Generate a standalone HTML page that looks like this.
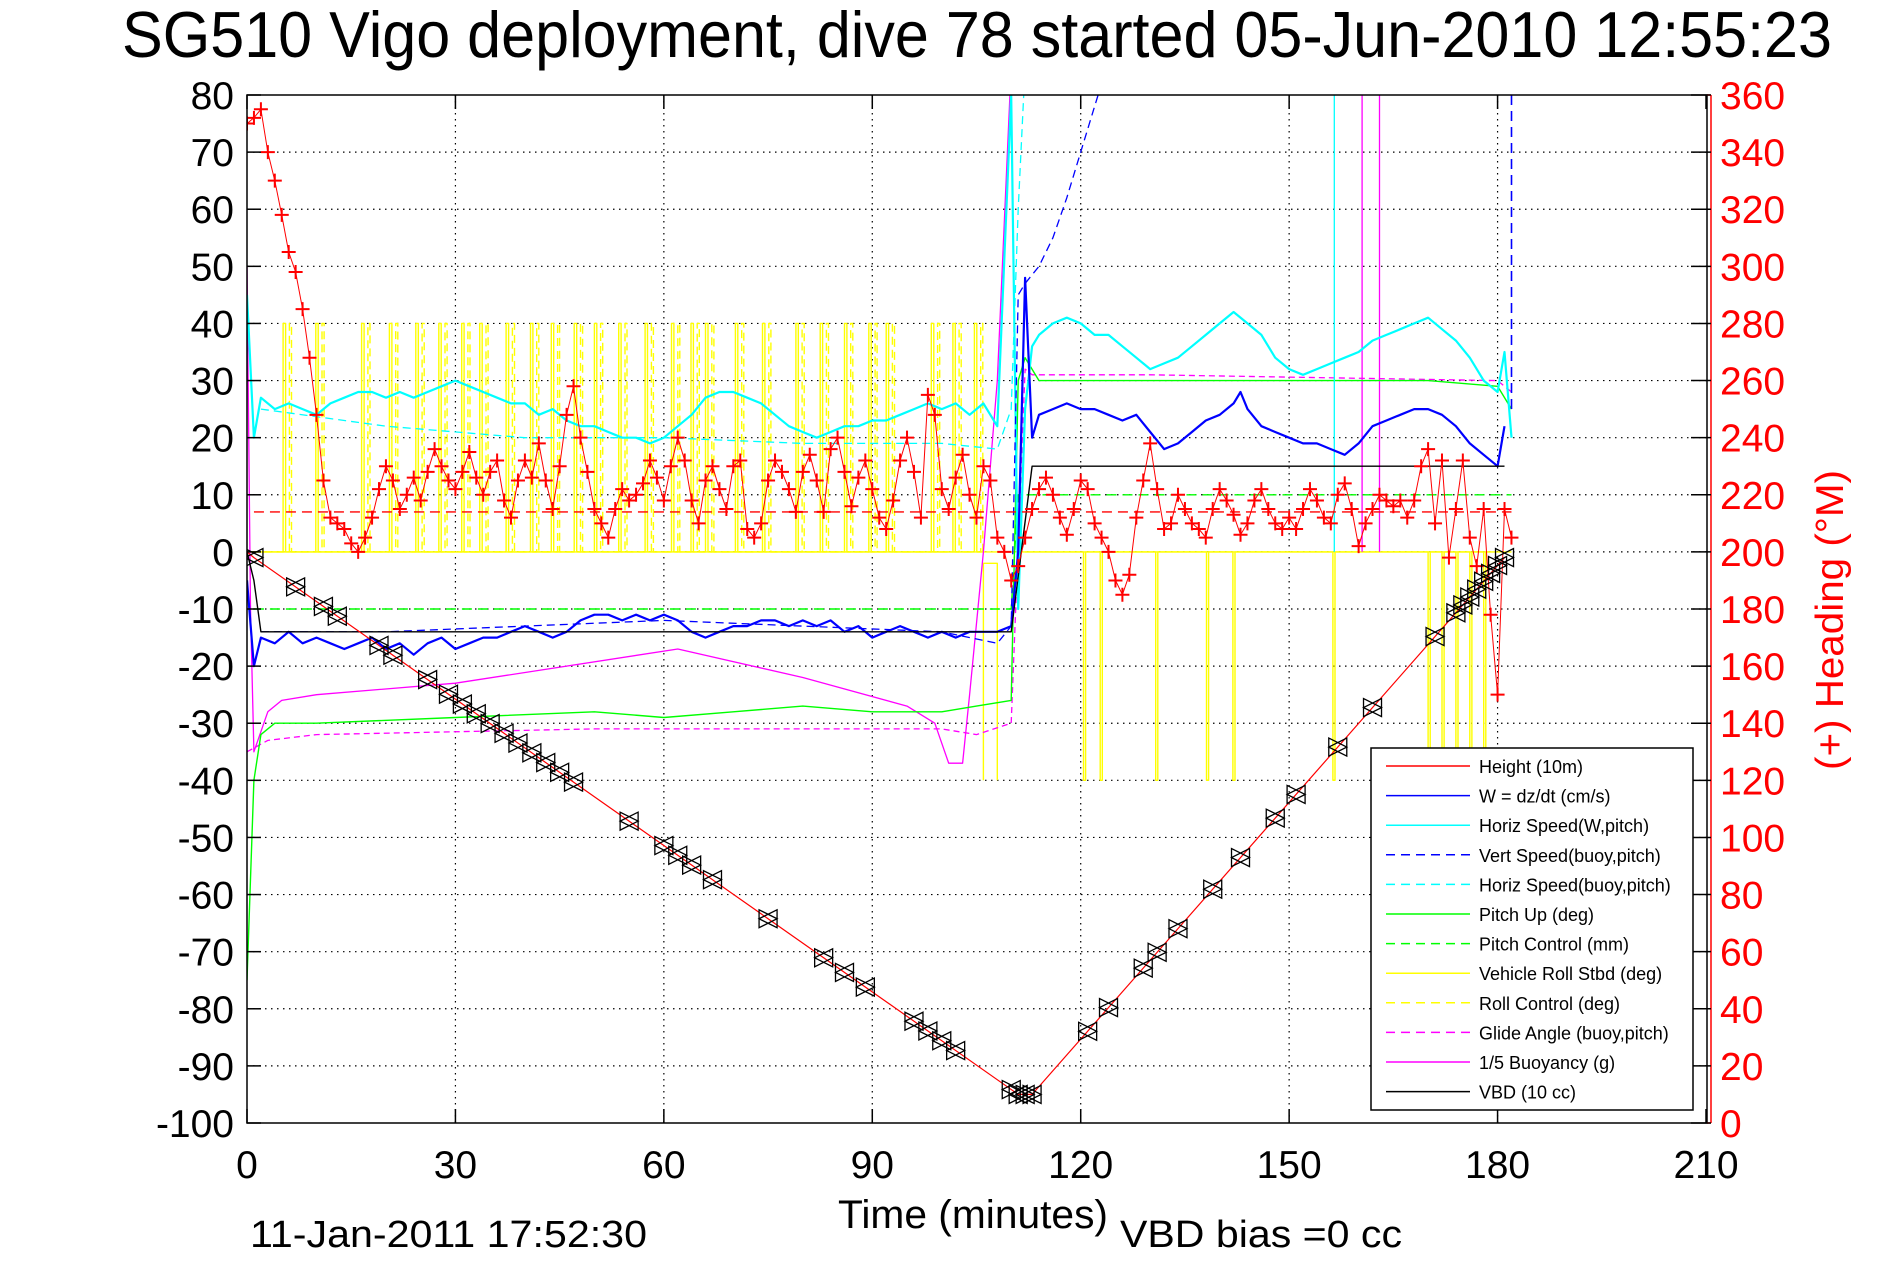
<!DOCTYPE html>
<html><head><meta charset="utf-8"><title>SG510 dive 78</title>
<style>html,body{margin:0;padding:0;background:#fff}svg{display:block}text{font-family:"Liberation Sans",sans-serif}</style>
</head><body>
<svg id="chart" xmlns="http://www.w3.org/2000/svg" width="1891" height="1262" viewBox="0 0 1891 1262">
<rect x="0" y="0" width="1891" height="1262" fill="#fff"/>
<text x="122" y="57" font-size="65" textLength="1710" lengthAdjust="spacingAndGlyphs">SG510 Vigo deployment, dive 78 started 05-Jun-2010 12:55:23</text>
<g id="grid"></g>
<g id="series"></g>
<g id="axes"></g>
<text x="838" y="1228" font-size="40" textLength="270" lengthAdjust="spacingAndGlyphs">Time (minutes)</text>
<text x="250" y="1247" font-size="38" textLength="397" lengthAdjust="spacingAndGlyphs">11-Jan-2011 17:52:30</text>
<text x="1120" y="1247" font-size="38" textLength="282" lengthAdjust="spacingAndGlyphs">VBD bias =0 cc</text>
<text x="0" y="0" font-size="39" fill="#f00" text-anchor="middle" transform="translate(1843,620) rotate(-90)" textLength="300" lengthAdjust="spacingAndGlyphs">(+) Heading (°M)</text>
<g id="legend"></g>
</svg>
<script>
const xTicks=[0,30,60,90,120,150,180,210];
const yTicks=[80,70,60,50,40,30,20,10,0,-10,-20,-30,-40,-50,-60,-70,-80,-90,-100];
const hTicks=[0,20,40,60,80,100,120,140,160,180,200,220,240,260,280,300,320,340,360];
const heightT=[0,1,111,113,181];
const heightV=[0,-1,-95,-95,-1];
const markerT=[1,7,11,13,19,21,26,29,31,33,35,37,39,41,43,45,47,55,60,62,64,67,75,83,86,89,96,98,100,102,110,111,112,113,121,124,129,131,134,139,143,148,151,157,162,171,174,175,176,177,178,179,180,181];
const wT=[0,1,2,4,6,8,10,12,14,16,18,20,22,24,26,28,30,32,34,36,38,40,42,44,46,48,50,52,54,56,58,60,62,64,66,68,70,72,74,76,78,80,82,84,86,88,90,92,94,96,98,100,102,104,106,108,110,111,112,113,114,116,118,120,122,124,126,128,130,132,134,136,138,140,142,143,144,146,148,150,152,154,156,158,160,162,164,166,168,170,172,174,176,178,180,181];
const wV=[-5,-20,-15,-16,-14,-16,-15,-16,-17,-16,-15,-17,-16,-18,-16,-15,-17,-16,-15,-15,-14,-13,-14,-15,-14,-12,-11,-11,-12,-11,-12,-11,-12,-14,-15,-14,-13,-13,-12,-12,-13,-12,-13,-12,-14,-13,-15,-14,-13,-14,-15,-14,-15,-14,-14,-14,-13,0,48,20,24,25,26,25,25,24,23,24,21,18,19,21,23,24,26,28,25,22,21,20,19,19,18,17,19,22,23,24,25,25,24,22,19,17,15,22];
const vsT=[2,20,40,60,80,100,108,110,111,112,114,116,118,120,122,123];
const vsV=[-14,-14,-13,-12,-13,-14,-16,-13,45,47,50,55,62,70,78,82];
const hsT=[0,1,2,4,6,8,10,12,14,16,18,20,22,24,26,28,30,32,34,36,38,40,42,44,46,48,50,52,54,56,58,60,62,64,66,68,70,72,74,76,78,80,82,84,86,88,90,92,94,96,98,100,102,104,106,108,110,111,112,113,114,116,118,120,122,124,126,128,130,132,134,136,138,140,142,144,146,148,150,152,154,156,158,160,162,164,166,168,170,172,174,176,178,180,181,182];
const hsV=[45,20,27,25,26,25,24,26,27,28,28,27,28,27,28,29,30,29,28,27,26,26,24,25,23,22,22,21,20,20,19,20,22,24,27,28,28,27,26,24,22,21,20,21,22,22,23,23,24,25,26,25,26,24,26,22,80,-10,25,36,38,40,41,40,38,38,36,34,32,33,34,36,38,40,42,40,38,34,32,31,32,33,34,35,37,38,39,40,41,39,37,34,30,28,35,20];
const hbT=[2,20,40,60,80,100,108,110,111,112,113];
const hbV=[25,22,20,20,19,19,18,25,60,85,90];
const pitchT=[0,1,2,4,10,30,50,60,70,80,90,100,105,110,111,112,114,130,150,170,180,182];
const pitchV=[-75,-40,-32,-30,-30,-29,-28,-29,-28,-27,-28,-28,-27,-26,30,34,30,30,30,30,29,25];
const pcT=[1,110,111,182];
const pcV=[-10,-10,10,10];
const glideT=[0,3,10,50,100,105,110,112,113,130,180,182];
const glideV=[-35,-33,-32,-31,-31,-32,-30,32,31,31,30,28];
const buoyT=[0,0.5,1,3,5,10,30,62,80,95,99,101,103,104,106,108,110];
const buoyV=[50,-10,-35,-28,-26,-25,-23,-17,-22,-27,-30,-37,-37,-25,0,30,85];
const vbdT=[0,1,2,110,113,181];
const vbdV=[0,-5,-14,-14,15,15];
const rollUpT=[5.2,9.9,16.5,20.5,24.3,27.6,30.9,33.5,37.3,40.8,43.8,47.1,50.0,53.5,57.3,61.1,63.9,66.0,70.3,74.2,79.0,82.5,86.0,89.5,92.0,98.5,101.6,104.7];
const rollDownT=[120.4,122.8,130.8,138.1,141.9,156.3,170,172,174,176,178];
const headT=[];for(let i=0;i<=182;i++)headT.push(i);
const headV=[350,352,355,340,330,318,305,298,285,268,248,225,212,210,208,203,200,205,212,222,230,225,215,220,226,218,228,236,230,225,222,228,235,226,220,228,232,218,212,225,232,226,238,225,215,230,248,258,240,228,215,210,205,215,222,218,220,224,232,226,218,230,240,232,218,210,225,230,222,215,230,232,208,205,210,225,232,228,222,214,228,234,225,214,236,240,228,216,226,232,222,212,208,218,232,240,228,212,255,248,222,215,226,234,220,212,230,225,205,200,190,195,205,215,222,226,220,212,206,215,225,222,210,205,200,190,185,192,212,225,238,222,208,210,220,215,210,208,205,215,222,218,213,206,210,218,222,215,210,208,212,208,215,222,218,212,210,220,224,215,202,210,215,220,218,216,218,212,218,230,236,210,232,198,215,232,205,195,215,178,150,215,205];
const headRef=7;

const X0=247,X1=1707,Y0=95,Y1=1123;
const xs=t=>X0+(t-0)/210*(1706-X0);
const ys=v=>Y0+(80-v)/180*(Y1-Y0);
const hs=h=>Y1-h/360*(Y1-Y0);
const NS="http://www.w3.org/2000/svg";
function mk(tag,attrs,parent){const e=document.createElementNS(NS,tag);for(const k in attrs)e.setAttribute(k,attrs[k]);parent.appendChild(e);return e;}
const grid=document.getElementById('grid'),ser=document.getElementById('series'),ax=document.getElementById('axes'),leg=document.getElementById('legend');

xTicks.forEach(t=>{if(t>0&&t<210){const l=mk('line',{x1:xs(t),x2:xs(t),y1:Y0,y2:Y1,stroke:'#000','stroke-width':1.2,'stroke-dasharray':'1.5,4.5'},grid);

}});
yTicks.forEach(v=>{if(v<80&&v>-100){const l=mk('line',{x1:X0,x2:X1,y1:ys(v),y2:ys(v),stroke:'#000','stroke-width':1.2,'stroke-dasharray':'1.5,4.5'},grid);

}});

function line(T,V,color,sw,dash,name,fy){const pts=T.map((t,i)=>xs(t).toFixed(1)+','+(fy||ys)(V[i]).toFixed(1)).join(' ');
const a={points:pts,fill:'none',stroke:color,'stroke-width':sw,'stroke-linejoin':'round'};if(dash)a['stroke-dasharray']=dash;
const p=mk('polyline',a,ser);

return p;}
function pulses(times,hi,width,color,dash,name){const T=[],V=[];T.push(0.5);V.push(0);times.forEach(t=>{T.push(t,t,t+width,t+width);V.push(0,hi,hi,0);});T.push(times[times.length-1]+1);V.push(0);return line(T,V,color,1.4,dash,name);}

const cp=mk('clipPath',{id:'clip'},ser);mk('rect',{x:X0,y:Y0,width:X1-X0,height:Y1-Y0},cp);
ser.setAttribute('clip-path','url(#clip)');

pulses(rollUpT,40,0.35,'#ff0',null,'vehicle-roll-line');
pulses(rollUpT.map(t=>t+0.9),40,0.3,'#ff0','8,5','roll-control-line');
line([112,182],[0,0],'#ff0',1.4,null,'vehicle-roll-after-line');
pulses(rollDownT,-40,0.3,'#ff0',null,'vehicle-roll-down-line');
line([106,106,108,108],[-40,-2,-2,-40],'#ff0',1.4,null,'roll-bottom-line');
line(glideT,glideV,'#f0f',1.3,'6,4','glide-angle-line');
line(buoyT,buoyV,'#f0f',1.3,null,'buoyancy-line');
line([160.5,160.5],[80,0],'#f0f',1.3,null,'buoyancy-spike-1');
line([163,163],[80,0],'#f0f',1.3,null,'buoyancy-spike-2');
line(pcT,pcV,'#0f0',1.4,'10,6','pitch-control-line');
line(pitchT,pitchV,'#0f0',1.4,null,'pitch-up-line');
line(hbT,hbV,'#0ff',1.3,'8,5','horiz-speed-buoy-line');
line([114.5,116,118],[85,90,95],'#0ff',1.3,'8,5','horiz-speed-buoy-ascent');
line([156.5,156.5],[80,0],'#0ff',1.3,null,'horiz-speed-spike');
line(hsT,hsV,'#0ff',2.2,null,'horiz-speed-line');
line(vsT,vsV,'#00f',1.3,'8,5','vert-speed-buoy-line');
line([182,182],[80,25],'#00f',1.6,'10,6','vert-speed-buoy-end');
line(wT,wV,'#00f',2.2,null,'w-line');
line(vbdT,vbdV,'#000',1.4,null,'vbd-line');
const hr=mk('line',{x1:xs(1),x2:xs(182),y1:ys(headRef),y2:ys(headRef),stroke:'#f00','stroke-width':1.4,'stroke-dasharray':'10,6'},ser);


line(headT,headV,'#f00',1,null,'heading-line',hs);
headT.forEach((t,i)=>{const x=xs(t),y=hs(headV[i]);const p=mk('path',{d:`M${x-7},${y}H${x+7}M${x},${y-7}V${y+7}`,stroke:'#f00','stroke-width':2},ser);

});
line(heightT,heightV,'#f00',1.2,null,'height-line');
function hAt(t){for(let i=1;i<heightT.length;i++){if(t<=heightT[i]){const f=(t-heightT[i-1])/(heightT[i]-heightT[i-1]);return heightV[i-1]+f*(heightV[i]-heightV[i-1]);}}return heightV[heightV.length-1];}
markerT.forEach(t=>{const x=xs(t),y=ys(hAt(t));const s=9;
const p=mk('path',{d:`M${x-s},${y}L${x+s},${y-s}L${x+s},${y+s}ZM${x+s},${y}L${x-s},${y-s}L${x-s},${y+s}Z`,fill:'none',stroke:'#000','stroke-width':1.3},ser);

});

const box=mk('rect',{x:X0,y:Y0,width:X1-X0,height:Y1-Y0,fill:'none',stroke:'#000','stroke-width':1.5},ax);


const ra=mk('line',{x1:1711,x2:1711,y1:Y0,y2:Y1,stroke:'#f00','stroke-width':1.5},ax);


mk('line',{x1:X1,x2:1711,y1:Y0,y2:Y0,stroke:'#f00','stroke-width':1.5},ax);
mk('line',{x1:X1,x2:1711,y1:Y1,y2:Y1,stroke:'#f00','stroke-width':1.5},ax);
yTicks.forEach(v=>{const y=ys(v);mk('line',{x1:X0,x2:X0+14,y1:y,y2:y,stroke:'#000','stroke-width':1.5},ax);
const t=mk('text',{x:234,y:y+14,'font-size':39,'text-anchor':'end'},ax);t.textContent=v;

});
hTicks.forEach(h=>{const y=hs(h);mk('line',{x1:1711,x2:1691,y1:y,y2:y,stroke:'#000','stroke-width':1.5},ax);
const t=mk('text',{x:1720,y:y+14,'font-size':39,fill:'#f00'},ax);t.textContent=h;

});
xTicks.forEach(tk=>{const x=xs(tk);mk('line',{x1:x,x2:x,y1:Y1,y2:Y1-14,stroke:'#000','stroke-width':1.5},ax);mk('line',{x1:x,x2:x,y1:Y0,y2:Y0+14,stroke:'#000','stroke-width':1.5},ax);
const t=mk('text',{x:x,y:1178,'font-size':39,'text-anchor':'middle'},ax);t.textContent=tk;

});

const lb=mk('rect',{x:1371,y:748,width:322,height:362,fill:'#fff',stroke:'#000','stroke-width':1.5},leg);


const legLabels=['Height (10m)','W = dz/dt (cm/s)','Horiz Speed(W,pitch)','Vert Speed(buoy,pitch)','Horiz Speed(buoy,pitch)','Pitch Up (deg)','Pitch Control (mm)','Vehicle Roll Stbd (deg)','Roll Control (deg)','Glide Angle (buoy,pitch)','1/5 Buoyancy (g)','VBD (10 cc)'];
const legColors=['#f00','#00f','#0ff','#00f','#0ff','#0f0','#0f0','#ff0','#ff0','#f0f','#f0f','#000'];
const legDash=[0,0,0,1,1,0,1,0,1,1,0,0];
legLabels.forEach((lab,i)=>{const y=766+i*29.6;
const l=mk('line',{x1:1386,x2:1470,y1:y,y2:y,stroke:legColors[i],'stroke-width':1.5},leg);if(legDash[i])l.setAttribute('stroke-dasharray','9,6');


const t=mk('text',{x:1479,y:y+7,'font-size':18},leg);t.textContent=lab;

});
</script>
</body></html>
